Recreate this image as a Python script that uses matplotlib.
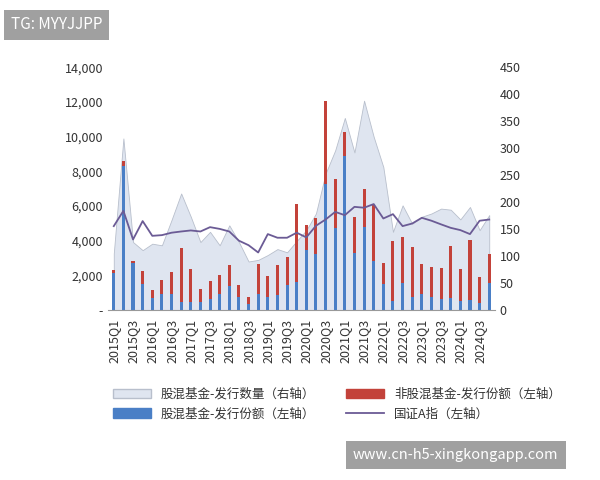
import matplotlib
matplotlib.use("Agg")
import matplotlib.pyplot as plt
import numpy as np

plt.rcParams['font.family'] = ['Noto Sans CJK SC', 'DejaVu Sans']

quarters = [f"{y}Q{q}" for y in range(2015, 2025) for q in range(1, 5)]
equity_share = [2130, 8300, 2720, 1500, 710, 920, 920, 480, 480, 440, 610, 900, 1400, 750, 330, 920, 750, 860, 1440, 1630,
                3460, 3210, 7260, 4740, 8890, 3300, 4800, 2840, 1500, 540, 1540, 730, 920, 770, 610, 670, 540, 580, 420, 1570]
total_share = [2300, 8580, 2840, 2250, 1150, 1730, 2190, 3550, 2360, 1190, 1670, 2020, 2590, 1420, 750, 2670, 1960, 2590, 3070, 6100,
               4900, 5280, 12060, 7560, 10270, 5340, 6970, 6050, 2690, 3970, 4220, 3650, 2630, 2500, 2400, 3690, 2360, 4030, 1880, 3230]
non_equity_share = [t - e for t, e in zip(total_share, equity_share)]
fund_count = [105, 318, 126, 111, 123, 120, 167, 216, 173, 126, 145, 120, 157, 126, 90, 93, 102, 113, 107, 128,
              148, 179, 253, 296, 356, 292, 388, 321, 265, 145, 194, 160, 173, 179, 188, 186, 168, 191, 148, 176]
index_a = [4840, 5720, 4070, 5130, 4280, 4320, 4460, 4530, 4590, 4530, 4780, 4680, 4530, 4000, 3740, 3320, 4380, 4170, 4170, 4460,
           4190, 4860, 5220, 5660, 5470, 5950, 5900, 6110, 5280, 5530, 4840, 4990, 5320, 5150, 4940, 4740, 4610, 4380, 5150, 5220]

fig = plt.figure(figsize=(6, 4.8), dpi=100)
ax = fig.add_axes([0.18, 0.354, 0.645, 0.506])
ax2 = ax.twinx()
ax.set_zorder(ax2.get_zorder() + 1)
ax.patch.set_visible(False)

x = np.arange(len(quarters))
ax2.fill_between(x, 0, fund_count, color='#dfe5f0', edgecolor='#b8bfcc', linewidth=0.6)
ax2.set_ylim(0, 450)
ax2.set_yticks(range(0, 451, 50))

w = 0.32
ax.bar(x, equity_share, width=w, color='#4a7fc6')
ax.bar(x, non_equity_share, width=w, bottom=equity_share, color='#c3423a')
ax.plot(x, index_a, color='#6b5b95', linewidth=1.3)
ax.set_ylim(0, 14000)
ax.set_yticks(range(0, 14001, 2000))
ax.set_yticklabels(['-'] + [f"{v:,}" for v in range(2000, 14001, 2000)])
ax.set_xlim(-0.6, len(quarters) - 0.4)
ax.set_xticks(x[::2])
ax.set_xticklabels(quarters[::2], rotation=90)

for a in (ax, ax2):
    for s in a.spines.values():
        s.set_visible(False)
    a.tick_params(length=0, labelsize=9, colors='#333333')
ax.spines['bottom'].set_visible(True)
ax.spines['bottom'].set_color('#999999')
ax.tick_params(axis='x', pad=6)

from matplotlib.patches import Patch
from matplotlib.lines import Line2D
handles = [Patch(facecolor='#dfe5f0', edgecolor='#b8bfcc'), Patch(color='#4a7fc6'),
           Patch(color='#c3423a'), Line2D([], [], color='#6b5b95', lw=1.3)]
labels = ['股混基金-发行数量（右轴）', '股混基金-发行份额（左轴）', '非股混基金-发行份额（左轴）', '国证A指（左轴）']
fig.legend(handles, labels, loc='upper left', bbox_to_anchor=(0.17, 0.215), ncol=2, frameon=False,
           fontsize=9, handlelength=3, handleheight=0.8, columnspacing=2.5, labelcolor='#333333')

fig.text(0.018, 0.948, 'TG: MYYJJPP', fontsize=11, color='white', va='center',
         bbox=dict(boxstyle='square,pad=0.45', facecolor='#a0a0a0', edgecolor='none'))
fig.text(0.588, 0.052, 'www.cn-h5-xingkongapp.com', fontsize=10.5, color='white', va='center',
         bbox=dict(boxstyle='square,pad=0.5', facecolor='#a0a0a0', edgecolor='none'))

fig.savefig('out.png', dpi=100)
